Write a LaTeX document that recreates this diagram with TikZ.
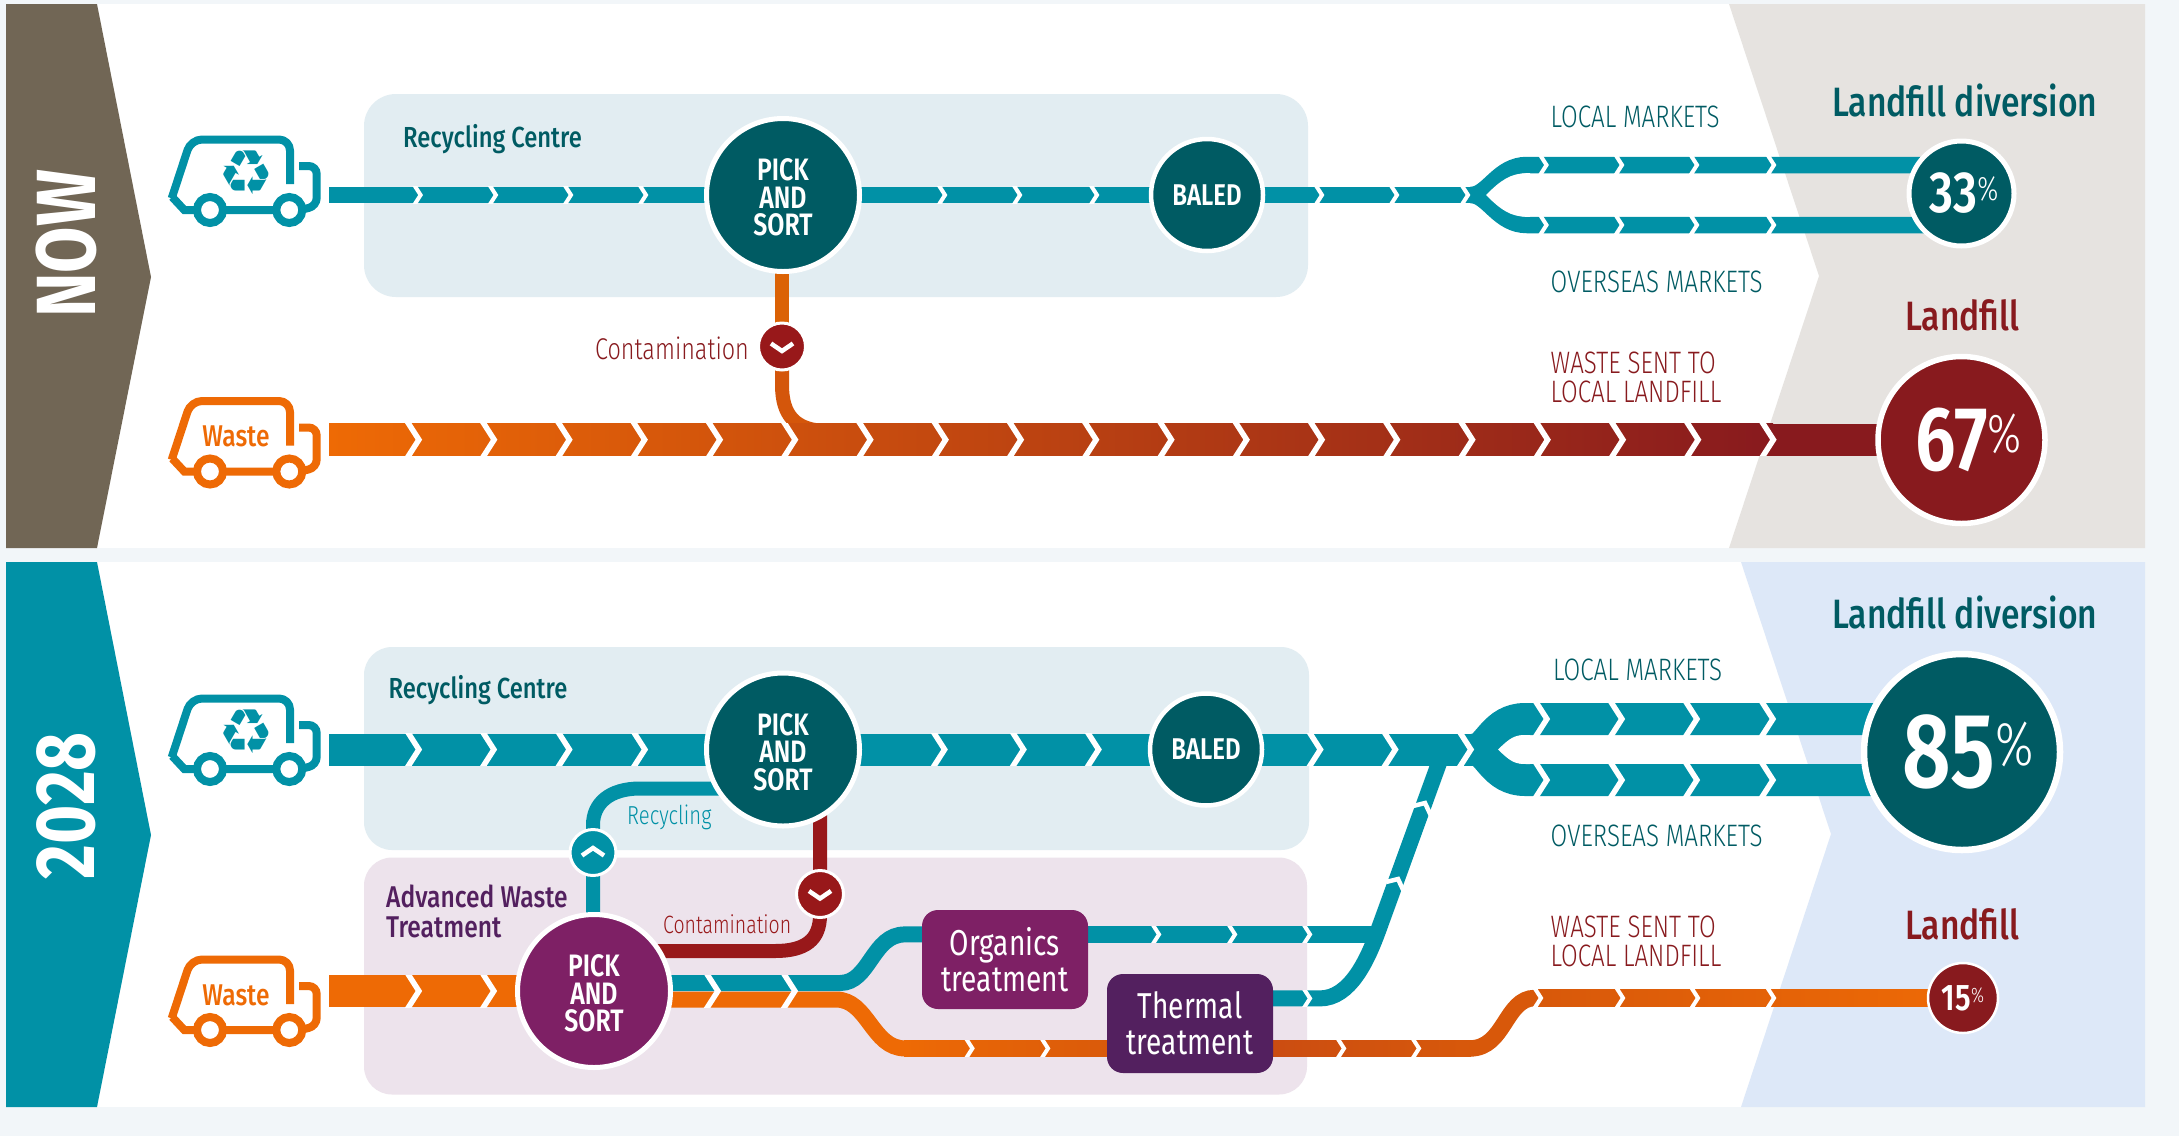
\documentclass[tikz,border=0pt]{standalone}
\usepackage{fontspec}
\usetikzlibrary{calc}
\setmainfont{Fira Sans}
\newfontfamily\cn[FakeStretch=0.78]{Fira Sans}
\newfontfamily\cm[FakeStretch=0.82]{Fira Sans Medium}
\newfontfamily\cs[FakeStretch=0.8]{Fira Sans SemiBold}
\newfontfamily\cl[FakeStretch=0.78]{Fira Sans Light}
\newfontfamily\hd[FakeStretch=0.8]{Fira Sans}
\newfontfamily\dv{DejaVu Sans}
\definecolor{teal1}{HTML}{0191A6}
\definecolor{dteal}{HTML}{005B63}
\definecolor{org}{HTML}{EE6A05}
\definecolor{dred}{HTML}{881A1E}
\definecolor{bred}{HTML}{98181A}
\definecolor{purp}{HTML}{7E2065}
\definecolor{dpurp}{HTML}{53205F}
\definecolor{brown1}{HTML}{716655}
\definecolor{pgrey}{HTML}{E6E3E0}
\definecolor{pblue}{HTML}{DDE8F8}
\definecolor{boxt}{HTML}{E2EDF2}
\definecolor{boxp}{HTML}{EDE3EC}
\definecolor{page}{HTML}{F2F6F9}
\definecolor{rust}{HTML}{C64814}
\pgfdeclarelayer{back}
\pgfdeclarelayer{trk}
\pgfsetlayers{back,trk,main}
\newcommand{\fs}[2]{\fontsize{#1}{#2}\selectfont}
\newcommand{\chv}[4]{% tip x, y, height, line width
  \begin{scope}
  \clip (#1-25,#2-#3/2) rectangle (#1+6,#2+#3/2);
  \draw[white,line width=#4,miter limit=10] (#1-#4*0.75-0.48*#3,#2-0.75*#3) -- (#1-#4*0.75,#2) -- (#1-#4*0.75-0.48*#3,#2+0.75*#3);
  \end{scope}}
\newcommand{\truckdraw}[3]{% dy, colour, name
  \begin{scope}[shift={(0,#1)}]
  \draw[#2,line width=8,rounded corners=11,line join=round] (290,184) -- (290,139.5) -- (191,139.5) -- (171.7,198.3);
  \draw[#2,line width=8,line join=miter] (172.2,197) -- (184.3,210) -- (303,210);
  \draw[#2,line width=8,rounded corners=8] (299,166) -- (316.7,166) -- (316.7,206) -- (300,210);
  \node[wheel=#2] (#3w1) at (210,210) {};
  \node[wheel=#2] (#3w2) at (289.3,210) {};
  \end{scope}}
\newcommand{\pst}{PICK\rule{0pt}{27pt}\\AND\\SORT}
\tikzset{
  hub/.style={circle,fill=#1,draw=white,inner sep=0pt,align=center,text=white},
  pickf/.style={font=\cs\fs{31}{27.5}},
  wheel/.style={circle,draw=#1,fill=white,line width=8,inner sep=0pt,minimum size=26},
  lab/.style={anchor=base west,inner sep=0pt,text=#1},
  head/.style={lab=#1,font=\cm\fs{41}{41}},
  mkt/.style={lab=#1,font=\cl\fs{31}{31}},
  boxn/.style={rectangle,rounded corners=16,fill=#1,text=white,inner sep=0pt,align=center,font=\cn\fs{36}{36}},
  tT/.style={draw=teal1,line width=16.5},
  tW/.style={draw=teal1,line width=32},
  tO/.style={draw=#1,line width=16.5},
  wv/.style={white,line width=4.5,line join=miter}
}
\begin{document}
\begin{tikzpicture}[x=1pt,y=-1pt]
\useasboundingbox (0,0) rectangle (2179,1136);
% ---------- nodes
\node[hub=dteal,line width=5,minimum size=153,pickf] (pick1) at (783,195) {\pst};
\node[hub=dteal,line width=4.5,minimum size=112,font=\cs\fs{30}{30}] (baled1) at (1207,195) {BALED};
\node[hub=dteal,line width=5,minimum size=105] (pc33) at (1961.5,193.5) {\hspace*{5pt}{\cs\fs{58}{58}33}\raisebox{12pt}{\cl\fs{34}{34}\%}};
\node[hub=dred,line width=5.5,minimum size=167] (pc67) at (1961.5,440) {\hspace*{14pt}{\cs\fs{91}{91}67}\raisebox{18pt}{\cl\fs{55}{55}\%}};
\node[hub=bred,line width=3,minimum size=47] (bul1) at (782,346.5) {};
\draw[wv] ($(bul1)+(-11,-3)$) -- ($(bul1)+(0,4.5)$) -- ($(bul1)+(11,-3)$);
\node[hub=dteal,line width=5,minimum size=153,pickf] (pick2) at (783,749.5) {\pst};
\node[hub=dteal,line width=4.5,minimum size=112,font=\cs\fs{30}{30}] (baled2) at (1206,749.5) {BALED};
\node[hub=dteal,line width=6.5,minimum size=196] (pc85) at (1962,752) {\hspace*{12pt}{\cs\fs{106}{106}85}\raisebox{22pt}{\cl\fs{62}{62}\%}};
\node[hub=dred,line width=2.5,minimum size=70] (pc15) at (1963,998) {{\cs\fs{37}{37}15}\raisebox{8pt}{\cl\fs{21}{21}\%}};
\node[hub=purp,line width=5,minimum size=153,pickf] (awt) at (594,991) {\pst};
\node[hub=teal1,line width=3,minimum size=46] (bul2) at (593,852.5) {};
\draw[wv] ($(bul2)+(-11,3)$) -- ($(bul2)+(0,-4.5)$) -- ($(bul2)+(11,3)$);
\node[hub=bred,line width=3,minimum size=47] (bul3) at (820,894) {};
\draw[wv] ($(bul3)+(-11,-3)$) -- ($(bul3)+(0,4.5)$) -- ($(bul3)+(11,-3)$);
\node[boxn=purp,minimum width=166,minimum height=99] (org1) at (1005,959.5) {Organics\\treatment};
\node[boxn=dpurp,minimum width=166,minimum height=99] (therm) at (1190,1023.5) {Thermal\\treatment};
% trucks
\truckdraw{0}{teal1}{ta}
\node[inner sep=0pt,text=teal1,font=\dv\fs{62}{62}] (rec1) at (246.7,173) {♻};
\truckdraw{261.5}{org}{tb}
\node[inner sep=0pt,text=org,font=\cm\fs{30}{30}] (wst1) at (236,436) {Waste};
\truckdraw{559}{teal1}{tc}
\node[inner sep=0pt,text=teal1,font=\dv\fs{62}{62}] (rec2) at (246.7,732) {♻};
\truckdraw{820}{org}{td}
\node[inner sep=0pt,text=org,font=\cm\fs{30}{30}] (wst2) at (236,995) {Waste};
% titles
\node[rotate=90,text=white,inner sep=0pt,font=\hd\bfseries\fs{84}{84}] (now) at (66,244) {NOW};
\node[rotate=90,text=white,inner sep=0pt,font=\hd\bfseries\fs{84}{84}] (yr) at (66,805.5) {2028};
% labels NOW
\node[lab=dteal,font=\cm\fs{29}{29}] (l1) at (403,147) {Recycling Centre};
\node[head=dteal] (l2) at (1832,116) {Landfill diversion};
\node[head=dred] (l3) at (1905,330) {Landfill};
\node[mkt=dteal] (l4) at (1550.5,127) {LOCAL MARKETS};
\node[mkt=dteal] (l5) at (1550.5,292) {OVERSEAS MARKETS};
\node[mkt=dred] (l6) at (1550.5,373) {WASTE SENT TO};
\node[mkt=dred] (l7) at (1550.5,402.5) {LOCAL LANDFILL};
\node[lab=dred,font=\cl\fs{30}{30}] (l8) at (595,359) {Contamination};
% labels 2028
\node[lab=dteal,font=\cm\fs{29}{29}] (m1) at (388.5,698.5) {Recycling Centre};
\node[head=dteal] (m2) at (1832,628) {Landfill diversion};
\node[head=dred] (m3) at (1905,939.5) {Landfill};
\node[mkt=dteal] (m4) at (1553,680.5) {LOCAL MARKETS};
\node[mkt=dteal] (m5) at (1550.5,846.5) {OVERSEAS MARKETS};
\node[mkt=dred] (m6) at (1550.5,937) {WASTE SENT TO};
\node[mkt=dred] (m7) at (1550.5,966.7) {LOCAL LANDFILL};
\node[lab=teal1,font=\cl\fs{26}{26}] (m8) at (627,824.5) {Recycling};
\node[lab=bred,font=\cl\fs{25}{25}] (m9) at (663,933.5) {Contamination};
\node[lab=dpurp,font=\cm\fs{30}{30}] (m10) at (386,907) {Advanced Waste};
\node[lab=dpurp,font=\cm\fs{30}{30}] (m11) at (386,937.5) {Treatment};
% free ends
\coordinate (s1) at (329,195);
\coordinate (sp1) at (1471,195);
\coordinate (u1) at (1527,165);
\coordinate (d1) at (1527,225);
\coordinate (s2) at (329,749.5);
\coordinate (sp2) at (1475,749.5);
\coordinate (u2) at (1525,719);
\coordinate (d2) at (1525,780);
\coordinate (s3) at (329,991);
\coordinate (rcy) at (640,788.5);
\coordinate (ctm) at (775,951);
\coordinate (tsp) at (840,983);
\coordinate (osp) at (836,999.5);
\coordinate (orgL) at (905,934.4);
\coordinate (dia1) at (1378.4,930);
\coordinate (dia2) at (1443,752);
\coordinate (thR) at (1320,998.4);
\coordinate (low1) at (905,1048.4);
\coordinate (low2) at (1470,1048.4);
\coordinate (hi2) at (1535,998);
% ---------- backgrounds
\begin{pgfonlayer}{back}
\fill[page] (0,0) rectangle (2179,1136);
\fill[white] (6,4) rectangle (2145,548);
\fill[white] (6,562) rectangle (2145,1107);
\fill[brown1] (6,4) -- (97,4) -- (151,277) -- (97,548) -- (6,548) -- cycle;
\fill[teal1] (6,562) -- (97,562) -- (151,835) -- (97,1107) -- (6,1107) -- cycle;
\fill[pgrey] (1729,4) -- (1819,276) -- (1729,548) -- (2145,548) -- (2145,4) -- cycle;
\fill[pblue] (1741,562) -- (1831,834) -- (1741,1107) -- (2145,1107) -- (2145,562) -- cycle;
\fill[boxt,rounded corners=32] (364,94) rectangle (1308,297);
\fill[boxt,rounded corners=28] (364,647) rectangle (1309,850);
\fill[boxp,rounded corners=28] (364,857.5) rectangle (1307,1094.5);
\end{pgfonlayer}
% ---------- tracks
\begin{pgfonlayer}{trk}
% NOW teal
\draw[tT] (s1) -- (pick1.center);
\draw[tT] (pick1.center) -- (baled1.center);
\draw[tT] (baled1.center) -- (sp1);
\draw[tT] (sp1) .. controls (1488,195) and (1498,165) .. (u1) -- (u1 -| pc33.center);
\draw[tT] (sp1) .. controls (1488,195) and (1498,225) .. (d1) -- (d1 -| pc33.center);
\fill[white] (1486,195) .. controls (1500,181) and (1510,173.2) .. (1527,173.2) -- (1530,173.2) -- (1530,216.8) -- (1527,216.8) .. controls (1510,216.8) and (1500,209) .. cycle;
\foreach \x in {423.6,498.9,574,649,948,1023,1100,1325,1400,1471} {\chv{\x}{195}{16.5}{4}}
\foreach \x in {1549.5,1625,1700,1777} {\chv{\x}{165}{16.5}{4}\chv{\x}{225}{16.5}{4}}
% NOW contamination and waste
\draw[draw=org!92!black,line width=14] (bul1.center |- pick1.center) -- (bul1.center);
\draw[draw=org!75!dred,line width=14] (bul1.center) -- (782,385) .. controls (782,415) and (795,431) .. (828,431);
\fill[dred] (1772,423.7) rectangle (1961,455.7);
\fill[left color=org,right color=dred] (329,423.7) rectangle (1773,455.7);
\foreach \k in {0,...,18} {\pgfmathsetmacro{\x}{423+75.25*\k}\chv{\x}{439.7}{32}{5.5}}
% 2028: diagonal return line (under the trunk)
\draw[tT,line width=16] (therm.center |- thR) -- (thR) .. controls (1350,998.4) and (1367.5,960) .. (dia1) -- (dia2);
\draw[tT] (org1.center |- orgL) -- (1378,934.4);
\begin{scope}[white,line width=4.5,line join=miter,miter limit=10]
\draw (1413,806) -- (1425,803) -- (1433,820);
\draw (1386,882) -- (1398,879) -- (1406,896);
\end{scope}
\foreach \x in {1162,1238,1313} {\chv{\x}{934.4}{16.5}{4}}
\chv{1313}{998.4}{16.5}{4}
% 2028 trunk
\draw[tW] (s2) -- (pick2.center);
\draw[tW] (pick2.center) -- (baled2.center);
\draw[tW] (baled2.center) -- (sp2);
\draw[tW] (sp2) .. controls (1488,749.5) and (1494,719) .. (u2) -- (u2 -| pc85.center);
\draw[tW] (sp2) .. controls (1488,749.5) and (1494,780) .. (d2) -- (d2 -| pc85.center);
\fill[white] (1498,749.5) .. controls (1510,738) and (1514,735) .. (1526,735) -- (1530,735) -- (1530,764) -- (1526,764) .. controls (1514,764) and (1510,761) .. cycle;
\foreach \x in {423,498,573.5,649,948.7,1027.7,1102.7,1324.5,1399.5,1475} {\chv{\x}{749.5}{32}{5.5}}
\foreach \x in {1551,1626,1701,1777} {\chv{\x}{719}{32}{5.5}\chv{\x}{780}{32}{5.5}}
% 2028 recycling and contamination links
\draw[tT,line width=14] (bul2.center |- awt.center) -- (bul2.center) -- (593,825) .. controls (593,803) and (610,788.5) .. (rcy) -- (rcy -| pick2.center);
\draw[draw=bred,line width=14] (bul3.center |- pick2.center) -- (bul3.center) -- (820,915) .. controls (820,940) and (805,951) .. (ctm) -- (ctm -| awt.center);
% 2028 waste in
\draw[draw=org,line width=32] (s3) -- (awt.center);
\foreach \x in {423,498} {\chv{\x}{991}{32}{5.5}}
% 2028 split after the sort
\draw[tT,line width=16] (awt.center |- tsp) -- (tsp) .. controls (870,983) and (872,934.4) .. (orgL) -- (org1.center |- orgL);
\draw[draw=org,line width=16] (awt.center |- osp) -- (osp) .. controls (868,999.5) and (872,1048.4) .. (low1);
\foreach \x in {722,799} {\chv{\x}{991}{32}{5.5}}
% lower line with its colour changes
\fill[left color=org,right color=org!72!dred] (904,1040.2) rectangle (1190,1056.6);
\fill[left color=rust,right color=org!78!dred] (1190,1040.2) rectangle (1471,1056.6);
\draw[tO=org!78!dred] (low2) .. controls (1505,1048.4) and (1505,998) .. (hi2);
\fill[left color=org!78!dred,right color=org] (1534,989.8) rectangle (1963,1006.2);
\foreach \x in {975.4,1051,1347,1422} {\chv{\x}{1048.4}{16.5}{4}}
\foreach \x in {1544,1626,1701,1777} {\chv{\x}{998}{16.5}{4}}
\end{pgfonlayer}
\end{tikzpicture}
\end{document}
